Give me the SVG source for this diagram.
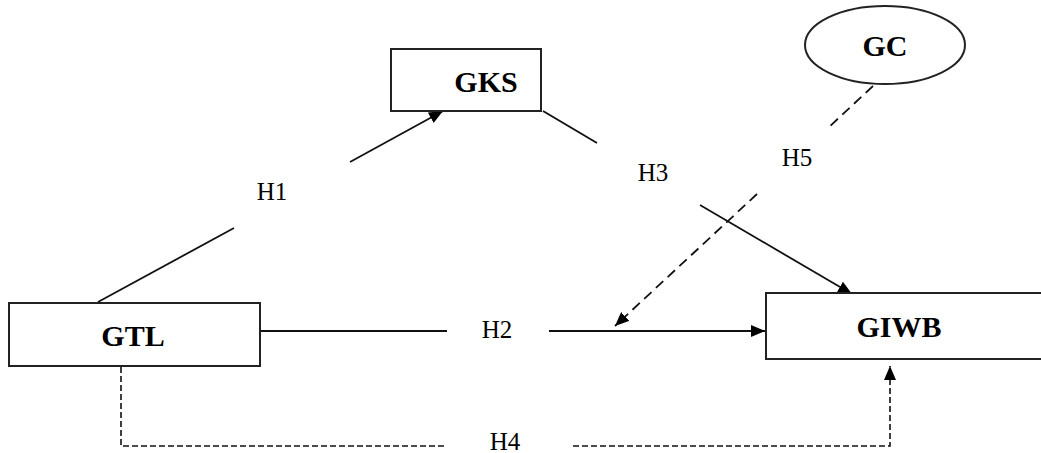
<svg xmlns="http://www.w3.org/2000/svg" width="1041" height="453" viewBox="0 0 1041 453">
  <defs>
    <marker id="arr" viewBox="0 0 14 12" refX="14" refY="6" markerWidth="14" markerHeight="12" markerUnits="userSpaceOnUse" orient="auto">
      <path d="M0,0 L14,6 L0,12 z" fill="#000"/>
    </marker>
    <style>
      .box { fill: #fff; stroke: #222; stroke-width: 2; }
      .node { font-family: "Liberation Serif", "Times New Roman", serif; font-weight: bold; font-size: 30px; fill: #000; text-anchor: middle; }
      .lbl { font-family: "Liberation Serif", "Times New Roman", serif; font-size: 25px; fill: #000; text-anchor: middle; }
      .ln { stroke: #111; stroke-width: 1.8; fill: none; }
      .dash { stroke: #111; stroke-width: 1.8; fill: none; stroke-dasharray: 10 6; }
      .dot { stroke: #111; stroke-width: 1.6; fill: none; stroke-dasharray: 6 3; }
    </style>
  </defs>
  <rect width="1041" height="453" fill="#fff"/>

  <g id="connectors">
    <!-- H1 -->
    <line class="ln" x1="98" y1="302" x2="234" y2="228"/>
    <line class="ln" x1="350" y1="162" x2="443" y2="111" marker-end="url(#arr)"/>
    <!-- H3 -->
    <line class="ln" x1="543" y1="111" x2="597" y2="143"/>
    <line class="ln" x1="700" y1="205" x2="852" y2="294" marker-end="url(#arr)"/>
    <!-- H2 -->
    <line class="ln" x1="260" y1="331" x2="447" y2="331"/>
    <line class="ln" x1="549" y1="331" x2="765" y2="331" marker-end="url(#arr)"/>
    <!-- H5 -->
    <line class="dash" x1="873" y1="86" x2="828" y2="128"/>
    <line class="dash" x1="757" y1="194" x2="615" y2="326" marker-end="url(#arr)"/>
    <!-- H4 -->
    <polyline class="dot" points="121,367 121,446 445,446"/>
    <polyline class="dot" points="573,446 890,446 890,366" marker-end="url(#arr)"/>
  </g>

  <g id="labels">
    <text class="lbl" x="272" y="200">H1</text>
    <text class="lbl" x="497" y="338">H2</text>
    <text class="lbl" x="653" y="181">H3</text>
    <text class="lbl" x="505" y="450">H4</text>
    <text class="lbl" x="797" y="166">H5</text>
  </g>

  <g id="GKS">
    <rect class="box" x="391" y="49" width="150" height="62"/>
    <text class="node" x="486" y="92">GKS</text>
  </g>
  <g id="GC">
    <ellipse class="box" cx="885" cy="45" rx="80" ry="39"/>
    <text class="node" x="885" y="56">GC</text>
  </g>
  <g id="GTL">
    <rect class="box" x="9" y="303" width="251" height="63"/>
    <text class="node" x="133" y="346">GTL</text>
  </g>
  <g id="GIWB">
    <rect class="box" x="766" y="293" width="290" height="66"/>
    <text class="node" x="899" y="337">GIWB</text>
  </g>
</svg>
